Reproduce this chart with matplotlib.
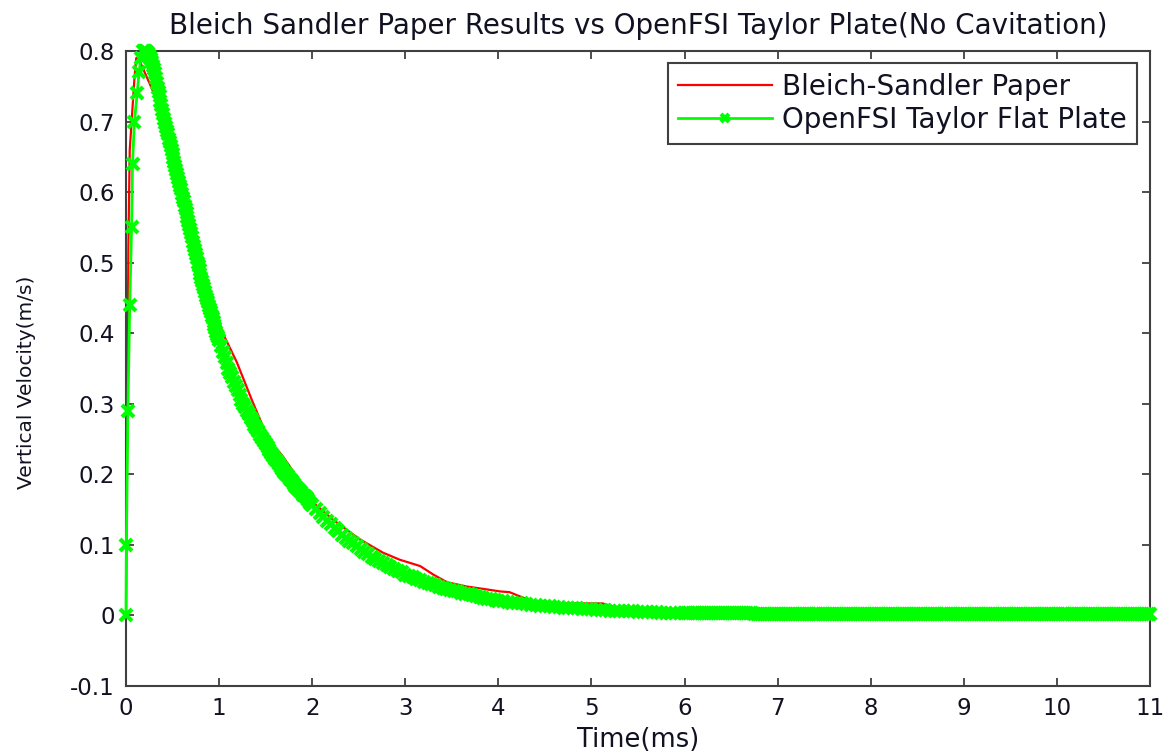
import numpy as np
import matplotlib
matplotlib.use("Agg")
import matplotlib.pyplot as plt

plt.rcParams['font.family'] = ['DejaVu Sans']

title = "Bleich Sandler Paper Results vs OpenFSI Taylor Plate(No Cavitation)"
x_label = "Time(ms)"
y_label = "Vertical Velocity(m/s)"
red_name = "Bleich-Sandler Paper"
green_name = "OpenFSI Taylor Flat Plate"

x_ticks = list(range(0, 12))
y_ticks = [-0.1, 0.0, 0.1, 0.2, 0.3, 0.4, 0.5, 0.6, 0.7, 0.8]
y_tick_labels = ["-0.1", "0", "0.1", "0.2", "0.3", "0.4", "0.5", "0.6", "0.7", "0.8"]

red_time = [0.0, 0.015, 0.025, 0.04, 0.07, 0.09, 0.11, 0.15, 0.20, 0.25, 0.30,
            0.35, 0.42, 0.50, 0.60, 0.70, 0.80, 0.90, 1.04, 1.19, 1.35, 1.47,
            1.57, 1.67, 1.76, 1.87, 2.01, 2.22, 2.51, 2.76, 2.94, 3.16, 3.30,
            3.45, 3.66, 3.87, 4.02, 4.12, 4.25, 4.37, 4.50, 4.66, 5.12, 5.30,
            5.60, 6.00]
red_vel = [0.0, 0.30, 0.52, 0.66, 0.72, 0.76, 0.79, 0.785, 0.77, 0.755, 0.74,
           0.72, 0.69, 0.65, 0.60, 0.55, 0.505, 0.460, 0.400, 0.359, 0.306,
           0.268, 0.243, 0.228, 0.211, 0.189, 0.160, 0.136, 0.108, 0.089, 0.079,
           0.070, 0.058, 0.047, 0.041, 0.037, 0.034, 0.033, 0.026, 0.020, 0.018,
           0.017, 0.017, 0.010, 0.006, 0.004]

# OpenFSI output, sampled at the rate needed to follow each stretch
green_time_a = [0.0, 0.004, 0.02, 0.04, 0.06, 0.07, 0.09, 0.12, 0.14, 0.16, 0.18]
green_vel_a = [0.0, 0.10, 0.29, 0.44, 0.55, 0.64, 0.70, 0.74, 0.77, 0.79, 0.80]

# 0.19 - 1.00 ms, every 0.01 ms
green_vel_b = [
    0.800, 0.800, 0.800, 0.799, 0.798, 0.797, 0.795, 0.792, 0.788, 0.784,
    0.779, 0.774, 0.769, 0.762, 0.755, 0.748, 0.742, 0.736, 0.729, 0.723,
    0.717, 0.711, 0.704, 0.698, 0.693, 0.687, 0.682, 0.676, 0.671, 0.665,
    0.660, 0.654, 0.649, 0.643, 0.637, 0.632, 0.626, 0.620, 0.615, 0.609,
    0.604, 0.598, 0.592, 0.587, 0.581, 0.576, 0.570, 0.565, 0.559, 0.554,
    0.548, 0.542, 0.536, 0.530, 0.524, 0.518, 0.512, 0.506, 0.500, 0.495,
    0.490, 0.484, 0.479, 0.474, 0.469, 0.464, 0.458, 0.453, 0.448, 0.444,
    0.439, 0.435, 0.430, 0.425, 0.421, 0.416, 0.412, 0.407, 0.402, 0.398,
    0.394, 0.390,
]
# 1.02 - 2.00 ms, every 0.02 ms
green_vel_c = [
    0.382, 0.374, 0.366, 0.358, 0.350, 0.344, 0.338, 0.331, 0.325, 0.319,
    0.313, 0.306, 0.300, 0.295, 0.290, 0.285, 0.280, 0.275, 0.270, 0.265,
    0.261, 0.256, 0.252, 0.247, 0.243, 0.239, 0.235, 0.230, 0.226, 0.222,
    0.219, 0.215, 0.211, 0.208, 0.204, 0.201, 0.197, 0.194, 0.190, 0.187,
    0.184, 0.181, 0.178, 0.175, 0.171, 0.169, 0.166, 0.163, 0.160, 0.157,
]
# 2.04 - 4.00 ms, every 0.04 ms
green_vel_d = [
    0.151, 0.145, 0.139, 0.134, 0.129, 0.124, 0.119, 0.114, 0.110, 0.106,
    0.102, 0.098, 0.094, 0.090, 0.087, 0.083, 0.080, 0.077, 0.074, 0.071,
    0.068, 0.066, 0.063, 0.061, 0.058, 0.056, 0.054, 0.052, 0.050, 0.048,
    0.046, 0.044, 0.043, 0.041, 0.039, 0.038, 0.036, 0.035, 0.034, 0.032,
    0.031, 0.030, 0.029, 0.028, 0.026, 0.025, 0.024, 0.023, 0.022, 0.021,
]
# 4.05 - 6.00 ms, every 0.05 ms
green_vel_e = [
    0.020, 0.019, 0.018, 0.018, 0.017, 0.016, 0.015, 0.015, 0.014, 0.013,
    0.013, 0.012, 0.012, 0.011, 0.011, 0.010, 0.010, 0.009, 0.009, 0.009,
    0.008, 0.008, 0.008, 0.007, 0.007, 0.007, 0.006, 0.006, 0.006, 0.005,
    0.005, 0.005, 0.005, 0.005, 0.004, 0.004, 0.004, 0.004, 0.004, 0.003,
]
# 6.025 - 11.00 ms, every 0.025 ms (residual velocity)
green_vel_f = [
    0.003, 0.003, 0.003, 0.003, 0.003, 0.003, 0.003, 0.003, 0.003, 0.003,
    0.003, 0.003, 0.003, 0.003, 0.003, 0.003, 0.003, 0.003, 0.003, 0.003,
    0.003, 0.003, 0.003, 0.003, 0.003, 0.003, 0.003, 0.003, 0.003, 0.002,
    0.002, 0.002, 0.002, 0.002, 0.002, 0.002, 0.002, 0.002, 0.002, 0.002,
    0.002, 0.002, 0.002, 0.002, 0.002, 0.002, 0.002, 0.002, 0.002, 0.002,
    0.002, 0.002, 0.002, 0.002, 0.002, 0.002, 0.002, 0.002, 0.002, 0.002,
    0.002, 0.002, 0.002, 0.002, 0.002, 0.002, 0.002, 0.002, 0.002, 0.002,
    0.002, 0.002, 0.002, 0.002, 0.002, 0.002, 0.002, 0.002, 0.002, 0.002,
    0.002, 0.002, 0.002, 0.002, 0.002, 0.002, 0.002, 0.002, 0.002, 0.002,
    0.002, 0.002, 0.002, 0.002, 0.002, 0.002, 0.002, 0.002, 0.002, 0.002,
    0.002, 0.002, 0.002, 0.002, 0.002, 0.002, 0.002, 0.002, 0.002, 0.002,
    0.002, 0.002, 0.002, 0.002, 0.002, 0.002, 0.002, 0.002, 0.002, 0.002,
    0.002, 0.002, 0.002, 0.002, 0.002, 0.002, 0.002, 0.002, 0.002, 0.002,
    0.002, 0.002, 0.002, 0.002, 0.002, 0.002, 0.002, 0.002, 0.002, 0.002,
    0.002, 0.002, 0.002, 0.002, 0.002, 0.002, 0.002, 0.002, 0.002, 0.002,
    0.002, 0.002, 0.002, 0.002, 0.002, 0.002, 0.002, 0.002, 0.002, 0.002,
    0.002, 0.002, 0.002, 0.002, 0.002, 0.002, 0.002, 0.002, 0.002, 0.002,
    0.002, 0.002, 0.002, 0.002, 0.002, 0.002, 0.002, 0.002, 0.002, 0.002,
    0.002, 0.002, 0.002, 0.002, 0.002, 0.002, 0.002, 0.002, 0.0015, 0.0015,
    0.0015, 0.0015, 0.0015, 0.0015, 0.0015, 0.0015, 0.0015, 0.0015, 0.0015, 0.0015,
]


def sampled(start, step, values):
    return np.round(start + step * np.arange(len(values)), 3)


green_time = np.concatenate([
    green_time_a,
    sampled(0.19, 0.01, green_vel_b),
    sampled(1.02, 0.02, green_vel_c),
    sampled(2.04, 0.04, green_vel_d),
    sampled(4.05, 0.05, green_vel_e),
    sampled(6.025, 0.025, green_vel_f),
])
green_vel = np.concatenate([green_vel_a, green_vel_b, green_vel_c,
                            green_vel_d, green_vel_e, green_vel_f])

fig = plt.figure(figsize=(11.69, 7.56), dpi=100)
ax = fig.add_axes([0.1078, 0.0926, 0.8759, 0.8399])

ax.plot(red_time, red_vel, color='#ff0000', lw=1.6, label=red_name, zorder=2)
ax.plot(green_time, green_vel, color='#00ff00', lw=2.0, marker='x',
        markersize=8.5, markeredgewidth=3.0, label=green_name, zorder=3,
        clip_on=False)

ax.set_xlim(0, 11)
ax.set_ylim(-0.1, 0.8)
ax.set_xticks(x_ticks)
ax.set_yticks(y_ticks)
ax.set_yticklabels(y_tick_labels)

spine_color = '#404040'
text_color = '#111122'
for s in ax.spines.values():
    s.set_color(spine_color)
    s.set_linewidth(1.5)
ax.tick_params(direction='in', length=6, width=1.3, color=spine_color,
               top=True, right=True, labelsize=16.5, labelcolor=text_color)
ax.tick_params(axis='y', pad=8)
ax.tick_params(axis='x', pad=8)

ax.set_title(title, fontsize=20, color=text_color, pad=12)
ax.set_xlabel(x_label, fontsize=18.5, color=text_color, labelpad=5)
ax.set_ylabel(y_label, fontsize=14.5, color=text_color)
ax.yaxis.set_label_coords(-0.088, 0.479)

leg = ax.legend(loc='upper right', bbox_to_anchor=(0.9873, 0.981),
                borderaxespad=0, fontsize=20, frameon=True, fancybox=False,
                numpoints=1, handlelength=3.4, handletextpad=0.36,
                labelspacing=0.18, borderpad=0.35, markerscale=0.6)
frame = leg.get_frame()
frame.set_edgecolor(spine_color)
frame.set_linewidth(1.5)
frame.set_alpha(1)
for t in leg.get_texts():
    t.set_color(text_color)

fig.savefig("out.png", dpi=100, facecolor='white')
